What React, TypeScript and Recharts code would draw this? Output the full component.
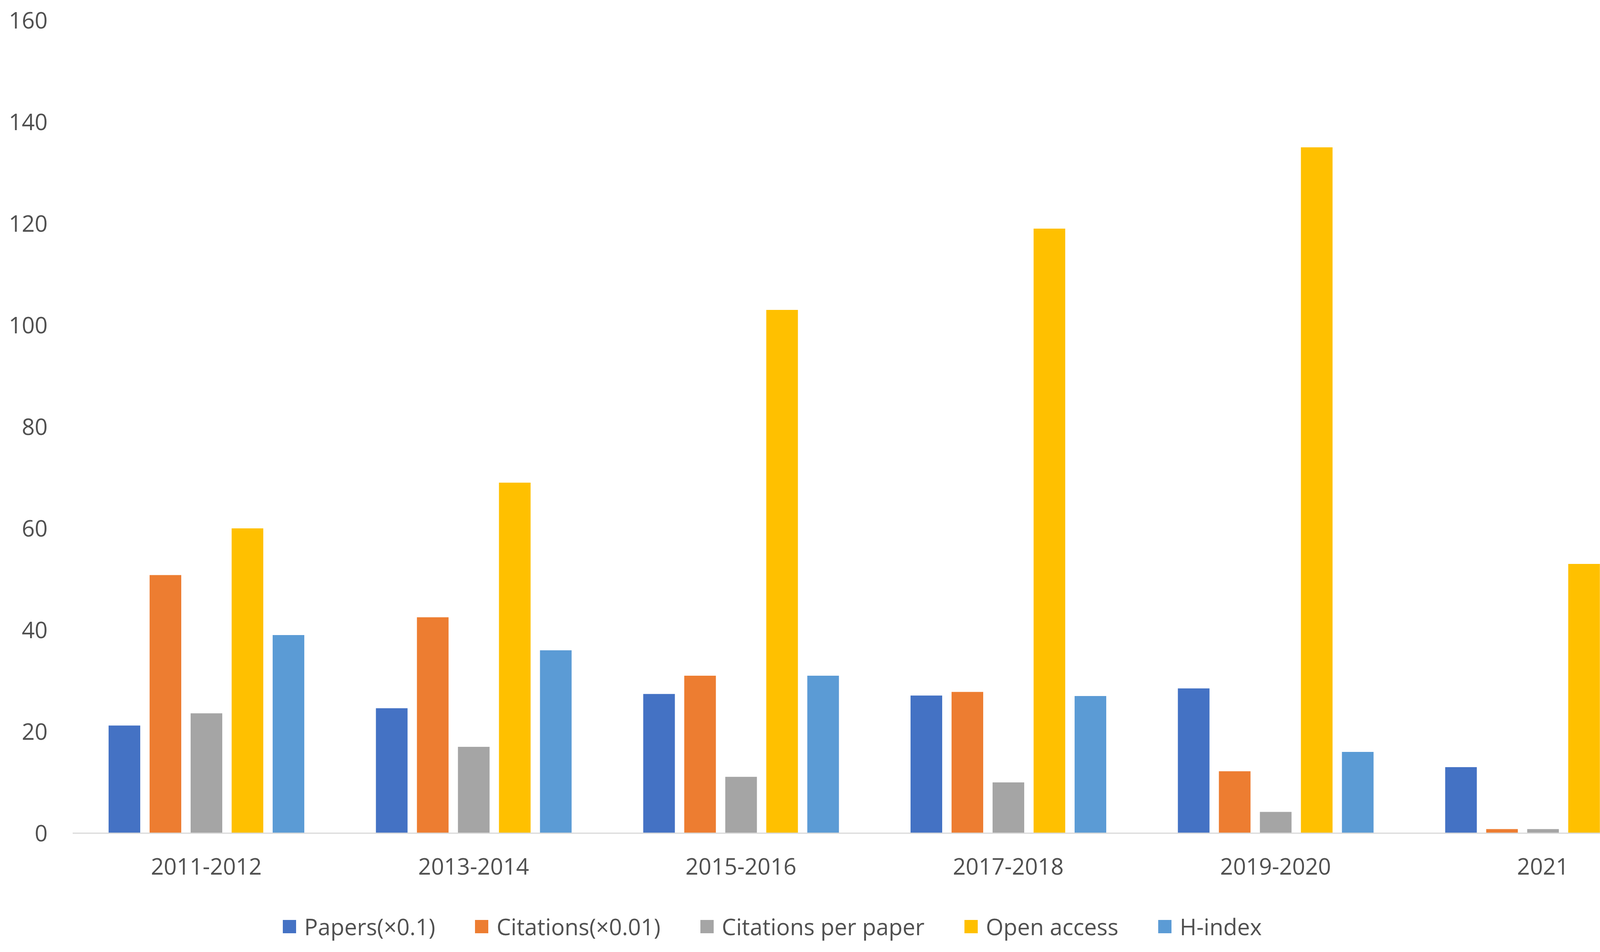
import React from 'react'
import { BarChart, Bar, XAxis, YAxis } from 'recharts'

const periods = ['2011-2012', '2013-2014', '2015-2016', '2017-2018', '2019-2020', '2021']
const papers = [21.2, 24.6, 27.4, 27.1, 28.5, 13.0]
const citations = [50.8, 42.5, 31.0, 27.8, 12.2, 0.8]
const citationsPerPaper = [23.6, 17.0, 11.1, 10.0, 4.2, 0.8]
const openAccess = [60, 69, 103, 119, 135, 53]
const hIndex = [39, 36, 31, 27, 16, 5]
const yTicks = [0, 20, 40, 60, 80, 100, 120, 140, 160]

const seriesList = [
  { key: 'papers', name: 'Papers(×0.1)', color: '#4472C4' },
  { key: 'citations', name: 'Citations(×0.01)', color: '#ED7D31' },
  { key: 'cpp', name: 'Citations per paper', color: '#A5A5A5' },
  { key: 'oa', name: 'Open access', color: '#FFC000' },
  { key: 'h', name: 'H-index', color: '#5B9BD5' }
]

const data = periods.map((p, i) => ({
  period: p,
  papers: papers[i],
  citations: citations[i],
  cpp: citationsPerPaper[i],
  oa: openAccess[i],
  h: hIndex[i]
}))

const FONT = '"Open Sans", "Noto Sans", sans-serif'
const TEXT = '#505050'

// legend drawn as plain html so it doesn't eat into the plot area
function LegendRow() {
  return (
    <div
      style={{
        position: 'absolute', left: 0, top: 2334, width: 3954, height: 74,
        display: 'flex', justifyContent: 'center', alignItems: 'center', gap: 102,
        fontFamily: FONT, fontSize: 58, color: TEXT
      }}
    >
      {seriesList.map(s => (
        <div key={s.key} style={{ display: 'flex', alignItems: 'center' }}>
          <span style={{ width: 34, height: 34, background: s.color, display: 'inline-block', marginRight: 21 }} />
          <span style={{ lineHeight: 1 }}>{s.name}</span>
        </div>
      ))}
    </div>
  )
}

export default function App() {
  return (
    <div style={{ position: 'absolute', left: 0, top: 0, width: 4319, height: 2436, background: '#fff' }}>
      <BarChart
        width={4319}
        height={2436}
        data={data}
        margin={{ top: 52, right: 27, bottom: 204, left: 0 }}
        barCategoryGap={92}
        barGap={24}
      >
        <XAxis
          dataKey="period"
          axisLine={{ stroke: '#D9D9D9', strokeWidth: 3 }}
          tickLine={false}
          tickSize={0}
          tickMargin={65}
          height={100}
          tick={{ fill: TEXT, fontSize: 58, fontFamily: FONT }}
        />
        <YAxis
          domain={[0, 160]}
          ticks={yTicks}
          width={186}
          axisLine={false}
          tickLine={false}
          tickSize={0}
          tickMargin={64}
          tick={{ fill: TEXT, fontSize: 58, fontFamily: FONT }}
        />
        {seriesList.map(s => (
          <Bar key={s.key} dataKey={s.key} name={s.name} fill={s.color} isAnimationActive={false} />
        ))}
      </BarChart>
      <LegendRow />
    </div>
  )
}
